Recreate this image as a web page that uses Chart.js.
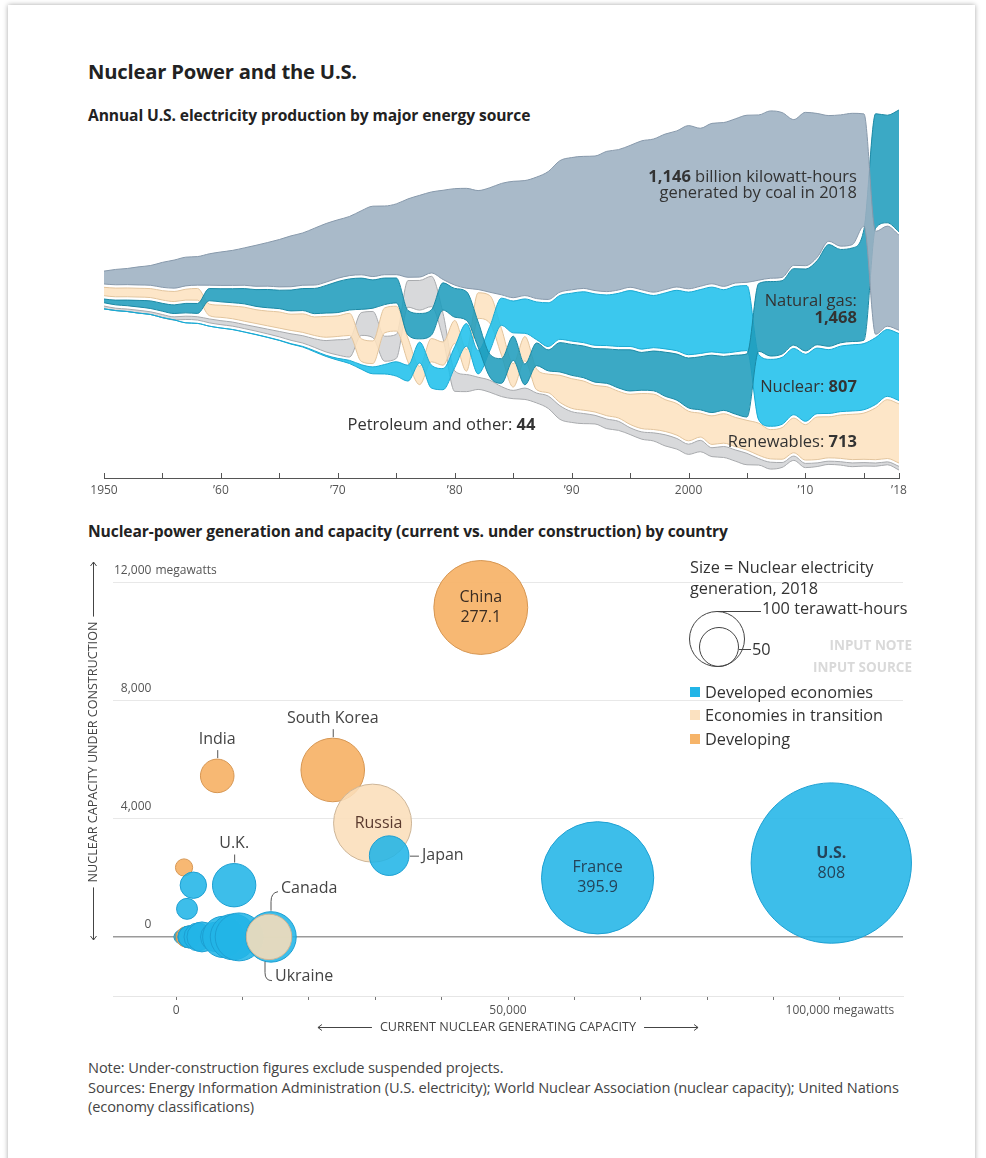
<!DOCTYPE html>
<html>
<head>
<meta charset="utf-8">
<script src="https://cdn.jsdelivr.net/npm/chart.js@4.4.1/dist/chart.umd.min.js"></script>
<style>
  body { margin: 0; background: #fff; font-family: "Open Sans", Roboto, sans-serif; color: #333; }
  #card { position: absolute; left: 8px; top: 5px; width: 967px; height: 1170px; box-shadow: 0 0 5px rgba(0,0,0,0.35); }
  .t { position: absolute; white-space: nowrap; }
  .h1 { font-size: 20.2px; font-weight: 700; color: #222; line-height: 22px; letter-spacing: -0.2px; }
  .h2 { font-size: 15.6px; font-weight: 700; color: #222; line-height: 20px; letter-spacing: -0.1px; }
  .note { font-size: 14.6px; color: #444; line-height: 19px; letter-spacing: -0.1px; }
  .lg { font-size: 16.3px; color: #333; line-height: 22px; }
  .ph { font-size: 13.5px; font-weight: 700; color: #d9d9d9; line-height: 16px; }
  .sq { position: absolute; width: 10px; height: 10px; }
  .ring { position: absolute; border: 1.4px solid #444; border-radius: 50%; box-sizing: border-box; }
  .tick { position: absolute; border-top: 1px solid #444; height: 0; }
  canvas { position: absolute; }
</style>
</head>
<body>
<div id="card"></div>

<div class="t h1" style="left:88px;top:60px">Nuclear Power and the U.S.</div>
<div class="t h2" style="left:88px;top:105px">Annual U.S. electricity production by major energy source</div>
<div class="t h2" style="left:88px;top:521px">Nuclear-power generation and capacity (current vs. under construction) by country</div>

<canvas id="flow" width="835" height="415" style="left:84px;top:90px"></canvas>
<canvas id="bubbles" width="840" height="500" style="left:80px;top:552px"></canvas>

<!-- bubble legend -->
<div class="t lg" style="left:690px;top:556px">Size = Nuclear electricity</div>
<div class="t lg" style="left:690px;top:577px">generation, 2018</div>
<div class="ring" style="left:689px;top:611px;width:56px;height:56px"></div>
<div class="ring" style="left:699px;top:627px;width:40px;height:40px"></div>
<div class="tick" style="left:717px;top:611px;width:44px"></div>
<div class="t lg" style="left:762px;top:597px">100 terawatt-hours</div>
<div class="tick" style="left:739px;top:649px;width:12px"></div>
<div class="t lg" style="left:752px;top:638px">50</div>
<div class="t ph" style="right:74px;top:637px">INPUT NOTE</div>
<div class="t ph" style="right:74px;top:659px">INPUT SOURCE</div>
<div class="sq" style="left:690px;top:687px;background:#22b5e7"></div>
<div class="t lg" style="left:705px;top:681px">Developed economies</div>
<div class="sq" style="left:690px;top:710px;background:#fbe1c0"></div>
<div class="t lg" style="left:705px;top:704px">Economies in transition</div>
<div class="sq" style="left:690px;top:734px;background:#f6b469"></div>
<div class="t lg" style="left:705px;top:728px">Developing</div>

<div class="t note" style="left:88px;top:1058px">Note: Under-construction figures exclude suspended projects.</div>
<div class="t note" style="left:88px;top:1078px">Sources: Energy Information Administration (U.S. electricity); World Nuclear Association (nuclear capacity); United Nations</div>
<div class="t note" style="left:88px;top:1097px">(economy classifications)</div>

<script>
// ---------- top chart: U.S. generation by source, billion kWh ----------
const years = [1950,1951,1952,1953,1954,1955,1956,1957,1958,1959,
  1960,1961,1962,1963,1964,1965,1966,1967,1968,1969,
  1970,1971,1972,1973,1974,1975,1976,1977,1978,1979,
  1980,1981,1982,1983,1984,1985,1986,1987,1988,1989,
  1990,1991,1992,1993,1994,1995,1996,1997,1998,1999,
  2000,2001,2002,2003,2004,2005,2006,2007,2008,2009,
  2010,2011,2012,2013,2014,2015,2016,2017,2018];

const coal = [155,185,195,219,239,301,338,346,344,378,
  403,422,450,494,526,571,613,630,685,706,
  704,713,771,848,828,853,944,985,976,1075,
  1162,1203,1192,1259,1342,1402,1386,1464,1541,1584,
  1594,1591,1621,1690,1691,1709,1795,1845,1874,1881,
  1966,1904,1933,1974,1978,2013,1991,2016,1986,1756,
  1847,1733,1514,1581,1582,1352,1239,1206,1146];

const naturalGas = [45,57,68,80,92,95,104,114,120,147,
  158,169,184,202,220,222,251,265,304,333,
  373,374,376,341,320,300,295,306,305,329,
  346,346,305,274,297,292,249,273,253,353,
  373,382,404,415,460,496,455,479,531,556,
  601,639,691,650,710,761,816,897,883,921,
  988,1014,1226,1125,1127,1335,1378,1296,1468];

const nuclear = [0,0,0,0,0,0,0,0.01,0.2,0.2,
  0.5,1.7,2.3,3.2,3.3,3.7,5.5,7.7,12.5,13.9,
  21.8,38.1,54.1,83.5,114,173,191,251,276,255,
  251,273,283,294,328,384,414,455,527,529,
  577,613,619,610,640,673,675,629,674,728,
  754,769,780,764,789,782,787,806,806,799,
  807,790,769,789,797,797,806,805,807];

const renewables = [101,105,106,106,108,113,122,131,141,139,
  147,153,169,166,178,195,196,223,223,251,
  248,267,273,273,301,300,285,221,280,280,
  277,261,309,332,321,281,291,250,224,327,
  357,352,320,350,322,363,422,427,384,381,
  357,288,344,355,352,358,386,353,381,418,
  427,513,495,523,546,557,625,709,713];

const petroleumOther = [34,29,30,34,32,37,37,40,40,47,
  48,49,49,52,57,65,79,89,104,138,
  184,220,274,314,301,289,320,358,365,304,
  246,206,147,145,120,100,137,119,149,164,
  130,122,104,116,109,82,88,98,134,128,
  123,137,107,132,135,137,78,83,59,52,
  51,44,39,41,45,42,39,35,44];

const sourceNames = ['Coal', 'Natural gas', 'Nuclear', 'Renewables', 'Petroleum and other'];
const sourceValues = [coal, naturalGas, nuclear, renewables, petroleumOther];
const sourceFill = ['#9db0c2', '#209dbd', '#20c0ec', '#fde2c0', '#d3d4d6'];
const sourceEdge = ['#8799ab', '#1a88a4', '#18a9d3', '#e2c49c', '#a8aaad'];

// ---------- bottom chart: countries ----------
const countries = ['Armenia','Netherlands','Slovenia','Iran','Romania','Pakistan','Mexico','Argentina',
  'Slovakia','South Africa','Brazil','Hungary','Bulgaria','Finland','Switzerland','Czech Republic',
  'Belgium','Spain','Sweden','India','Germany','U.K.','Canada','Ukraine','South Korea','Russia',
  'Japan','China','France','U.S.','U.A.E.'];
const capacityMW = [375,480,690,915,1300,1200,1550,1640,
  1650,1860,1900,1900,2000,2600,3300,3900,
  5900,7100,8600,6200,9500,8750,14300,14000,23600,29600,
  32100,45900,63500,98700,0];
const underConstructionMW = [0,0,0,0,0,2350,0,0,
  950,0,0,0,0,1750,0,0,
  0,0,0,5450,0,1750,0,0,5650,3850,
  2750,11150,2000,2500,5600];
const generationTWh = [2.0,3.3,5.5,6.3,10.5,9.3,13.2,6.5,
  13.8,10.6,14.8,14.9,15.4,21.9,24.5,28.3,
  27.3,53.4,65.9,35.4,72.1,59.1,80,65,127.1,191.3,
  49.3,277.1,395.9,808,0];
const economy = ['transition','developed','developed','developing','developed','developing','developing','developing',
  'developed','developing','developing','developed','developed','developed','developed','developed',
  'developed','developed','developed','developing','developed','developed','developed','transition','developing','transition',
  'developed','developing','developed','developed','developing'];
const yTicks = [0, 4000, 8000, 12000];
const xTicks = [0,10000,20000,30000,40000,50000,60000,70000,80000,90000,100000];

const econFill = { developed: 'rgba(34,181,231,0.88)', transition: 'rgba(250,222,186,0.88)', developing: 'rgba(246,178,103,0.92)' };
const econEdge = { developed: '#1c9fd2', transition: '#cdb597', developing: '#d69652' };

function rgba(hex, a) {
  const n = parseInt(hex.slice(1), 16);
  return 'rgba(' + (n >> 16) + ',' + ((n >> 8) & 255) + ',' + (n & 255) + ',' + a + ')';
}
const FONT = '"Open Sans", Roboto, sans-serif';

// ----- centred, rank-sorted stream layout (largest source on top) -----
const GAP = 40;
const bands = sourceValues.map(() => ({ lo: [], hi: [] }));
years.forEach((yr, i) => {
  const order = sourceValues.map((s, k) => k).sort((a, b) => sourceValues[b][i] - sourceValues[a][i]);
  const live = order.filter(k => sourceValues[k][i] > 0);
  const total = live.reduce((t, k) => t + sourceValues[k][i], 0) + GAP * (live.length - 1);
  let top = total / 2;
  order.forEach(k => {
    const v = sourceValues[k][i];
    if (v > 0) {
      bands[k].hi[i] = top; bands[k].lo[i] = top - v; top -= v + GAP;
    } else {
      bands[k].hi[i] = -total / 2; bands[k].lo[i] = -total / 2;
    }
  });
});

const flowSets = [];
sourceNames.forEach((name, k) => {
  const common = { pointRadius: 0, borderWidth: 1, borderColor: sourceEdge[k], cubicInterpolationMode: 'monotone' };
  flowSets.push(Object.assign({ label: name + ' low', data: years.map((y, i) => ({ x: y, y: bands[k].lo[i] })), fill: false }, common));
  flowSets.push(Object.assign({ label: name, data: years.map((y, i) => ({ x: y, y: bands[k].hi[i] })), fill: '-1', backgroundColor: rgba(sourceFill[k], 0.88) }, common));
});

const fmt = v => v.toLocaleString('en-US');
const last = a => a[a.length - 1];
const flowNotes = [
  { year: 2014.4, y: 1361, parts: [[fmt(last(coal)), 1], [' billion kilowatt-hours', 0]] },
  { year: 2014.4, y: 1169, parts: [['generated by coal in 2018', 0]] },
  { year: 2014.4, y: -133, parts: [['Natural gas:', 0]] },
  { year: 2014.4, y: -337, parts: [[fmt(last(naturalGas)), 1]] },
  { year: 2014.4, y: -1169, parts: [['Nuclear: ', 0], [fmt(last(nuclear)), 1]] },
  { year: 2014.4, y: -1831, parts: [['Renewables: ', 0], [fmt(last(renewables)), 1]] },
  { year: 1986.9, y: -1627, parts: [['Petroleum and other: ', 0], [fmt(last(petroleumOther)), 1]] }
];

function richRight(ctx, parts, xr, y, size) {
  let w = 0;
  parts.forEach(p => { ctx.font = (p[1] ? '700 ' : '400 ') + size + 'px ' + FONT; w += ctx.measureText(p[0]).width; });
  let x = xr - w;
  parts.forEach(p => {
    ctx.font = (p[1] ? '700 ' : '400 ') + size + 'px ' + FONT;
    ctx.fillText(p[0], x, y);
    x += ctx.measureText(p[0]).width;
  });
}

const flowDecor = {
  id: 'flowDecor',
  afterDraw(chart) {
    const ctx = chart.ctx, xs = chart.scales.x, ys = chart.scales.y, b = chart.chartArea.bottom;
    ctx.save();
    ctx.strokeStyle = '#555'; ctx.lineWidth = 1;
    xs.ticks.forEach(t => {
      const px = Math.round(xs.getPixelForValue(t.value)) + 0.5;
      ctx.beginPath(); ctx.moveTo(px, b); ctx.lineTo(px, b - 5); ctx.stroke();
    });
    ctx.fillStyle = '#333'; ctx.textBaseline = 'middle';
    flowNotes.forEach(n => richRight(ctx, n.parts, xs.getPixelForValue(n.year), ys.getPixelForValue(n.y), 16.5));
    ctx.restore();
  }
};

new Chart(document.getElementById('flow'), {
  type: 'line',
  data: { datasets: flowSets },
  options: {
    responsive: false, animation: false, events: [],
    layout: { autoPadding: false, padding: { left: 20, right: 20, top: 10, bottom: 0 } },
    plugins: { legend: { display: false }, tooltip: { enabled: false } },
    scales: {
      x: {
        type: 'linear', min: 1950, max: 2018,
        afterBuildTicks: s => { s.ticks = [1950,1955,1960,1965,1970,1975,1980,1985,1990,1995,2000,2005,2010,2015,2018].map(v => ({ value: v })); },
        afterFit: s => { s.height = 27; },
        grid: { display: false, drawTicks: false },
        border: { display: true, color: '#555', width: 1 },
        ticks: {
          padding: 5, color: '#555', font: { family: FONT, size: 12 }, maxRotation: 0, autoSkip: false,
          callback: v => v === 1950 || v === 2000 ? String(v) : (v % 10 === 0 || v === 2018 ? '\u2019' + String(v).slice(2) : '')
        }
      },
      y: { display: false, min: -2265, max: 2289 }
    }
  },
  plugins: [flowDecor]
});

// ---------- bubble chart ----------
const bubbleLabels = {
  'U.S.': { mode: 'inside', bold: true },
  'France': { mode: 'inside' },
  'China': { mode: 'inside' },
  'Russia': { mode: 'single' },
  'India': { mode: 'above' },
  'South Korea': { mode: 'above' },
  'U.K.': { mode: 'above' },
  'Japan': { mode: 'right' },
  'Canada': { mode: 'upright' },
  'Ukraine': { mode: 'downright' }
};
const LABEL_SIZE = 16;

function arrow(ctx, x, y, dir) {
  ctx.beginPath();
  if (dir === 'up') { ctx.moveTo(x - 3, y + 4); ctx.lineTo(x, y); ctx.lineTo(x + 3, y + 4); }
  if (dir === 'down') { ctx.moveTo(x - 3, y - 4); ctx.lineTo(x, y); ctx.lineTo(x + 3, y - 4); }
  if (dir === 'left') { ctx.moveTo(x + 4, y - 3); ctx.lineTo(x, y); ctx.lineTo(x + 4, y + 3); }
  if (dir === 'right') { ctx.moveTo(x - 4, y - 3); ctx.lineTo(x, y); ctx.lineTo(x - 4, y + 3); }
  ctx.stroke();
}

const bubbleDecor = {
  id: 'bubbleDecor',
  afterDraw(chart) {
    const ctx = chart.ctx, area = chart.chartArea, ys = chart.scales.y;
    const meta = chart.getDatasetMeta(0);
    ctx.save();
    // "megawatts" after top tick
    ctx.font = '400 12px ' + FONT;
    ctx.fillStyle = '#555'; ctx.textBaseline = 'middle'; ctx.textAlign = 'left';
    ctx.fillText('megawatts', area.left + 1 + ctx.measureText('12,000').width + 4, ys.getPixelForValue(12000) - 12);

    // axis titles with arrows
    ctx.strokeStyle = '#444'; ctx.lineWidth = 1; ctx.fillStyle = '#444';
    ctx.font = '400 12.6px ' + FONT;
    const xt = 'CURRENT NUCLEAR GENERATING CAPACITY';
    const xw = ctx.measureText(xt).width, xc = chart.scales.x.getPixelForValue(50000), xy = 475;
    ctx.textAlign = 'center'; ctx.fillText(xt, xc, xy);
    ctx.beginPath(); ctx.moveTo(xc - xw / 2 - 8, xy + 0.5); ctx.lineTo(xc - xw / 2 - 62, xy + 0.5);
    ctx.moveTo(xc + xw / 2 + 8, xy + 0.5); ctx.lineTo(xc + xw / 2 + 62, xy + 0.5); ctx.stroke();
    arrow(ctx, xc - xw / 2 - 62, xy + 0.5, 'left'); arrow(ctx, xc + xw / 2 + 62, xy + 0.5, 'right');

    const yt = 'NUCLEAR CAPACITY UNDER CONSTRUCTION';
    const yw = ctx.measureText(yt).width, yx = 13.5, yTop = 10, yBot = 388, yc = 200;
    ctx.save(); ctx.translate(yx, yc); ctx.rotate(-Math.PI / 2); ctx.fillText(yt, 0, 0); ctx.restore();
    ctx.beginPath(); ctx.moveTo(yx, yTop); ctx.lineTo(yx, yc - yw / 2 - 5);
    ctx.moveTo(yx, yc + yw / 2 + 5); ctx.lineTo(yx, yBot); ctx.stroke();
    arrow(ctx, yx, yTop, 'up'); arrow(ctx, yx, yBot, 'down');

    // country labels
    ctx.textBaseline = 'middle';
    const reg = '400 ' + LABEL_SIZE + 'px ' + FONT;
    countries.forEach((c, i) => {
      const cfg = bubbleLabels[c];
      if (!cfg) return;
      const el = meta.data[i], cx = el.x, cy = el.y, r = el.options.radius;
      ctx.strokeStyle = '#555'; ctx.lineWidth = 1;
      if (cfg.mode === 'inside') {
        ctx.textAlign = 'center';
        ctx.fillStyle = economy[i] === 'developed' ? '#24445a' : '#3a2c22';
        ctx.font = (cfg.bold ? '700 ' : '400 ') + LABEL_SIZE + 'px ' + FONT;
        ctx.fillText(c, cx, cy - 10);
        ctx.font = reg;
        ctx.fillText(String(generationTWh[i]), cx, cy + 10);
      } else if (cfg.mode === 'single') {
        ctx.textAlign = 'center'; ctx.fillStyle = '#5a3a2e'; ctx.font = reg;
        ctx.fillText(c, cx + 6, cy);
      } else if (cfg.mode === 'above') {
        ctx.beginPath(); ctx.moveTo(cx + 0.5, cy - r - 1); ctx.lineTo(cx + 0.5, cy - r - 9); ctx.stroke();
        ctx.textAlign = 'center'; ctx.fillStyle = '#444'; ctx.font = reg;
        ctx.fillText(c, cx, cy - r - 20);
      } else if (cfg.mode === 'right') {
        ctx.beginPath(); ctx.moveTo(cx + r + 1, cy + 0.5); ctx.lineTo(cx + r + 10, cy + 0.5); ctx.stroke();
        ctx.textAlign = 'left'; ctx.fillStyle = '#444'; ctx.font = reg;
        ctx.fillText(c, cx + r + 13, cy);
      } else if (cfg.mode === 'upright') {
        ctx.beginPath(); ctx.moveTo(cx, cy - r - 1); ctx.lineTo(cx, cy - r - 10);
        ctx.quadraticCurveTo(cx, cy - r - 19, cx + 7, cy - r - 20); ctx.stroke();
        ctx.textAlign = 'left'; ctx.fillStyle = '#444'; ctx.font = reg;
        ctx.fillText(c, cx + 10, cy - r - 23);
      } else if (cfg.mode === 'downright') {
        ctx.beginPath(); ctx.moveTo(cx - 4, cy + r + 2); ctx.lineTo(cx - 4, cy + r + 13);
        ctx.quadraticCurveTo(cx - 4, cy + r + 21, cx + 3, cy + r + 21); ctx.stroke();
        ctx.textAlign = 'left'; ctx.fillStyle = '#444'; ctx.font = reg;
        ctx.fillText(c, cx + 6, cy + r + 17);
      }
    });
    ctx.restore();
  }
};

new Chart(document.getElementById('bubbles'), {
  type: 'bubble',
  data: {
    datasets: [{
      label: 'Countries',
      data: countries.map((c, i) => ({ x: capacityMW[i], y: underConstructionMW[i], r: Math.sqrt(generationTWh[i]) * 2.82 })),
      backgroundColor: economy.map(e => econFill[e]),
      borderColor: economy.map(e => econEdge[e]),
      borderWidth: 1,
      clip: false
    }]
  },
  options: {
    responsive: false, animation: false, events: [],
    layout: { autoPadding: false, padding: { left: 33, right: 17, top: 8, bottom: 16 } },
    plugins: { legend: { display: false }, tooltip: { enabled: false } },
    scales: {
      x: {
        type: 'linear', min: -9500, max: 109500,
        afterBuildTicks: s => { s.ticks = xTicks.map(v => ({ value: v })); },
        afterFit: s => { s.height = 40; },
        grid: { display: true, drawOnChartArea: false, drawTicks: true, tickLength: 4, color: '#777' },
        border: { display: true, color: '#e6e6e6' },
        ticks: {
          padding: 3, color: '#555', font: { family: FONT, size: 12 }, maxRotation: 0, autoSkip: false,
          callback: v => v === 0 ? '0' : v === 50000 ? '50,000' : v === 100000 ? '100,000 megawatts' : ''
        }
      },
      y: {
        type: 'linear', min: -2000, max: 12750,
        afterBuildTicks: s => { s.ticks = yTicks.map(v => ({ value: v })); },
        afterFit: s => { s.width = 0; },
        grid: {
          drawTicks: false,
          color: c => c.tick && c.tick.value === 0 ? '#9a9a9a' : '#e8e8e8',
          lineWidth: c => c.tick && c.tick.value === 0 ? 1.6 : 1
        },
        border: { display: false },
        ticks: {
          mirror: true, crossAlign: 'far', padding: 1, labelOffset: -12,
          color: '#555', font: { family: FONT, size: 12 },
          callback: v => fmt(v)
        }
      }
    }
  },
  plugins: [bubbleDecor]
});
</script>
</body>
</html>
